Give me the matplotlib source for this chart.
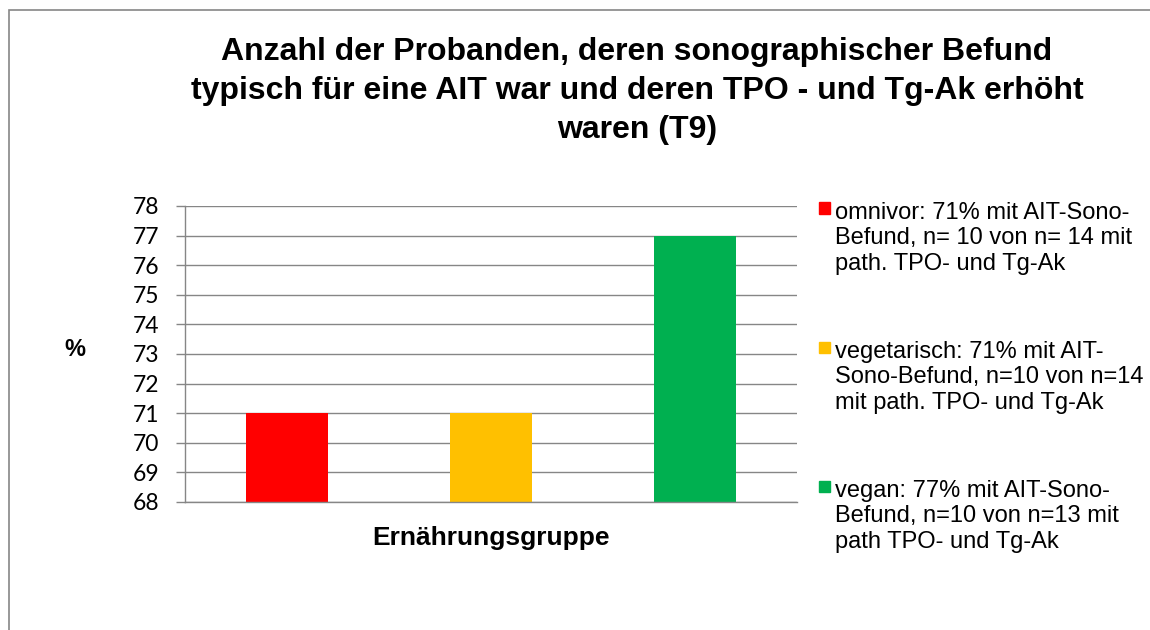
import numpy as np
import matplotlib.pyplot as plt
from matplotlib.patches import Rectangle

# data
groups = ['omnivor', 'vegetarisch', 'vegan']
values = [71, 71, 77]
colors = ['#ff0000', '#ffc000', '#00b050']
legend_labels = [
    'omnivor: 71% mit AIT-Sono-\nBefund, n= 10 von n= 14 mit\npath. TPO- und Tg-Ak',
    'vegetarisch: 71% mit AIT-\nSono-Befund, n=10 von n=14\nmit path. TPO- und Tg-Ak',
    'vegan: 77% mit AIT-Sono-\nBefund, n=10 von n=13 mit\npath TPO- und Tg-Ak',
]
yticks = list(range(68, 79))
title = ('Anzahl der Probanden, deren sonographischer Befund\n'
         'typisch für eine AIT war und deren TPO - und Tg-Ak erhöht\n'
         'waren (T9)')

W, H = 1150, 630
grid_color = '#868686'
plt.rcParams['font.family'] = ['Liberation Sans', 'DejaVu Sans']

fig = plt.figure(figsize=(W / 100, H / 100), dpi=100)
ax = fig.add_axes([185 / W, 1 - 502 / H, 612 / W, 296 / H])

# bars, one per group
x = np.arange(len(values)) + 0.5
ax.bar(x, values, width=0.4, color=colors, zorder=2)
ax.set_xlim(0, len(values))
ax.set_ylim(yticks[0], yticks[-1])
ax.set_yticks(yticks)
ax.set_xticks([])
ax.yaxis.grid(True, color=grid_color, lw=1.0)
ax.set_axisbelow(True)
for s in ['top', 'right']:
    ax.spines[s].set_visible(False)
for s in ['left', 'bottom']:
    ax.spines[s].set_color(grid_color)
    ax.spines[s].set_linewidth(1.0)
ax.tick_params(axis='y', direction='out', length=6.5, width=1.0, color=grid_color,
               pad=12, labelsize=16.5)
for lab in ax.get_yticklabels():
    lab.set_family('Lato')

ax.set_xlabel('Ernährungsgruppe', fontsize=19, fontweight='bold', labelpad=17)
fig.text(75 / W, 1 - 350 / H, '%', ha='center', va='center', fontsize=17, fontweight='bold')

# title
fig.text(637 / W, 1 - 91 / H, title, ha='center', va='center', fontsize=23,
         fontweight='bold', linespacing=1.39)

# legend drawn at right
for i, (lab, c) in enumerate(zip(legend_labels, colors)):
    yc = 208 + i * 139
    fig.add_artist(Rectangle((819 / W, 1 - (yc + 5.5) / H), 11 / W, 11 / H,
                             color=c, transform=fig.transFigure))
    fig.text(835 / W, 1 - (yc - 6) / H, lab, ha='left', va='top', fontsize=17,
             linespacing=1.2)

# outer frame
fig.add_artist(Rectangle((8.5 / W, -0.5), 2, (1 - 9.5 / H) + 0.5, fill=False,
                         ec=grid_color, lw=1.2, transform=fig.transFigure))

fig.savefig('out.png', dpi=100)
